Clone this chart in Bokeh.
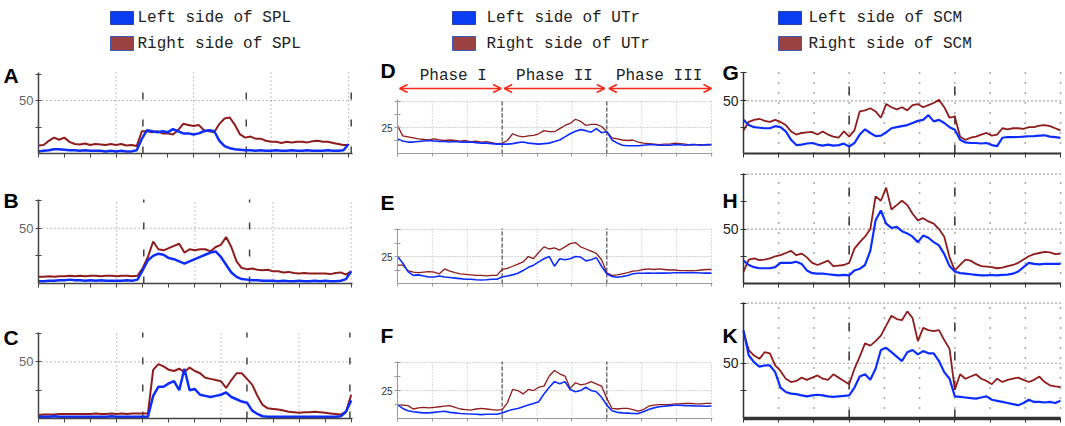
import numpy as np
from bokeh.plotting import figure
from bokeh.layouts import column, row
from bokeh.models import Range1d, FixedTicker, Label, Arrow, OpenHead
from bokeh.core.properties import value
from bokeh.embed import file_html
from bokeh.resources import INLINE

# ---------------- data (surface EMG amplitude traces) ----------------
SPL_DURATION = 12.0   # time span of SPL traces (axis units)
UTR_DURATION = 9.0
SCM_DURATION = 9.0

legend_titles = ["SPL", "UTr", "SCM"]
panel_letters = [["A", "D", "G"], ["B", "E", "H"], ["C", "F", "K"]]
phase_names = ["Phase I", "Phase II", "Phase III"]

spl_right_A = [7.5, 8, 12, 15, 13, 15, 11, 9, 8.5, 9.5, 8, 9, 8.5, 8, 9, 8, 9, 7.5, 8, 7,
               21, 21, 20, 21, 19, 19, 18, 22, 28, 27, 26, 27, 22, 21, 20, 28, 33, 34, 27, 18,
               15, 16, 14, 14, 12, 11, 11, 10, 11, 10.5, 11, 11, 10.5, 11.5, 12, 11, 11, 10, 9, 8, 8]
spl_left_A = [2, 2.5, 3, 4, 4, 3.5, 3, 3, 2.5, 3, 2.5, 2.5, 2.5, 2, 2.5, 2, 2.5, 2, 2, 3,
              14, 22, 21, 20, 21, 20, 23, 21, 19, 19, 18, 19, 21, 22, 21, 12, 7, 5, 4, 3.5,
              3, 3, 2.5, 3, 2.5, 2.5, 3, 2.5, 2.5, 3, 2.5, 2.5, 3, 2.5, 2.5, 2.5, 3, 2.5, 2.5, 3, 9]
spl_right_B = [6, 6, 6.5, 6, 6.5, 6.5, 7, 6.5, 7, 6.5, 7, 7, 6.5, 7, 7, 6.5, 7, 7, 6.5, 7,
               14, 24, 38, 31, 30, 32, 34, 36, 28, 31, 30, 31, 31, 29, 33, 35, 42, 33, 20, 14,
               13, 13.5, 12.5, 12, 12.5, 11, 11, 10, 10.5, 9.5, 9, 9.5, 9, 9, 9, 9, 8.5, 9.5, 10, 8, 11]
spl_left_B = [2, 2, 2.5, 2.5, 3, 3, 3.5, 3, 3, 2.5, 3, 2.5, 3, 2.5, 2.5, 2.5, 2.5, 3, 2.5, 3.5,
              12, 21, 25, 27, 26, 23, 22, 20, 18, 20, 22, 24, 26, 28, 29, 24, 17, 10, 6, 4,
              3.5, 3, 3, 2.5, 2.5, 2.5, 2, 2.5, 2, 2, 2.5, 2, 2, 2.5, 2, 2.5, 2, 2, 2.5, 4, 11]
spl_right_C = [3, 3.5, 3.5, 3.5, 4, 4, 4, 4, 4, 4, 4, 4.5, 4, 4, 4.5, 4, 4.5, 4, 4.5, 4.5,
               4.5, 4.5, 43, 48, 46, 43, 42, 44, 41, 45, 42, 40, 36, 35, 34, 33, 27, 34, 40, 40,
               35, 30, 20, 12, 9, 8.5, 8, 7, 6, 5.5, 5, 5.5, 5.5, 6, 5.5, 5, 4.5, 4, 3.5, 6, 21]
spl_left_C = [1.5, 1.5, 1.5, 2, 1.5, 1.5, 1.5, 1.5, 1.5, 1.5, 1.5, 1.5, 1.5, 1.5, 2, 1.5, 1.5, 1.5, 1.5, 1.5,
              1.5, 1.5, 20, 28, 28, 31, 33, 25, 44, 25, 26, 21, 20, 19, 20, 21, 23, 19, 17, 15,
              14, 7, 4, 2, 1.5, 1.5, 1.5, 1.5, 1.5, 1.5, 1.5, 1.5, 1.5, 1.5, 1.5, 1.5, 1.5, 1.5, 2, 6, 16]

utr_right_D = [27, 17, 16, 15, 14, 13.5, 13, 14, 13, 12.5, 13, 12.5, 12, 12.5, 11.5, 12, 11, 11.5, 10.5, 9.5,
               10, 12.5, 19, 17, 16, 17, 17.5, 19, 22, 21, 21, 24, 27, 29, 33, 31, 27, 28, 28, 26,
               21, 15, 14, 13, 12.5, 13, 11, 10, 9.5, 9, 8.5, 9, 9, 10, 9.5, 9, 8, 8.5, 8.5, 8, 8.5]
utr_left_D = [14, 12, 11, 11, 11.5, 12, 12.5, 12, 11.5, 11.5, 11, 11.5, 11, 11, 11, 10.5, 10, 10, 9.5, 9,
              9, 9, 9.5, 10.5, 11, 10, 9.5, 9, 9.5, 10, 11.5, 13, 16, 19, 21.5, 23, 22, 20.5, 24, 20,
              21, 13, 10, 8, 7.5, 7.5, 7.5, 8, 8.5, 8.5, 8, 8, 8, 8.5, 8.5, 8, 8.5, 8.5, 8, 8.5, 8.5]
utr_right_E = [17, 17, 12, 10.5, 10, 10.5, 11, 10.5, 9, 13.5, 11.5, 10, 9, 8.5, 8, 7.5, 7.5, 7, 7.5, 7.5,
               13, 14, 16, 18, 20, 25, 23, 29, 34, 32, 33, 31, 34, 37, 38, 34, 32, 30, 28, 22,
               10, 7.5, 8, 9, 10, 11.5, 12, 13, 13.5, 13, 13.5, 13, 12.5, 12.5, 12, 12, 12, 12, 12.5, 13, 13]
utr_left_E = [25, 19, 11, 7.5, 8, 7, 6, 6, 7, 6, 5.5, 5, 4.5, 4, 4, 3.5, 3.2, 3.5, 4, 4,
              6, 7, 8, 9.5, 12, 15, 17, 20, 23, 25, 16, 23, 22, 23, 25, 24.5, 21, 22, 24, 16,
              9, 6.5, 5.8, 6.5, 7.5, 9, 9.5, 9.5, 9.6, 9.5, 9.6, 9.6, 9.8, 10, 10, 10, 10.2, 10, 9.8, 9.6, 9.6]
utr_right_F = [12.5, 12, 11.5, 8.5, 9.5, 10, 9.5, 10, 10.5, 11, 11.5, 10, 8.5, 8, 7.5, 8.5, 9, 8.5, 8, 7.5,
               8, 14, 26, 25, 22, 26, 25, 28, 29, 38, 43, 40, 38, 27, 32, 30, 31, 33, 31, 29,
               18, 9, 8.5, 9, 9, 8, 6.5, 8, 11, 12, 12.5, 12.5, 12.5, 13, 13, 13.5, 13.5, 13, 13, 13.5, 13.5]
utr_left_F = [12.5, 9, 7, 6, 5.5, 5, 5, 5.5, 6, 6.5, 5.5, 5, 4.5, 4.2, 4, 3.8, 3.5, 3.8, 3.8, 3.8,
              5, 6.8, 8, 9, 10.5, 12, 13.5, 15, 22, 28, 33, 31, 33, 26, 24, 25, 28, 25, 24, 19,
              12, 7, 5.5, 5, 4.8, 4.5, 4.4, 6, 8, 9.5, 10.5, 11, 11.5, 11.8, 11.8, 11.5, 11.5, 11.2, 11.2, 11, 11.2]

scm_right_G = [22, 30, 32, 33, 31, 30, 32, 30, 27, 21, 18, 19.5, 20, 20.5, 18, 21, 18, 16, 15, 21,
               16, 22, 40, 41, 43, 40, 34, 47, 44, 42, 44, 41, 46, 47, 44, 46, 48, 51, 44, 34,
               35, 16, 13, 15, 16, 18, 19.5, 17, 18, 24, 23, 24, 24, 23.5, 25, 25, 26.5, 27, 26, 24, 22]
scm_left_G = [32, 27, 25, 24.5, 24, 24, 26, 25, 21, 13, 8, 8.5, 9.5, 10, 8.5, 7.5, 8.5, 7.5, 8, 9.4,
              6.5, 10, 18, 23, 19.5, 16.5, 17, 20, 24, 25, 26, 27, 29, 31, 32, 36.5, 30.5, 32, 29, 25,
              22.5, 13, 10.5, 10, 10, 9.5, 10, 8, 7, 15, 15.7, 15.5, 15.7, 16, 16.4, 16.5, 17, 17.3, 16, 15.5, 14.8]
scm_right_H = [11, 22, 23, 21.5, 22, 23, 25, 26, 28, 30, 26, 27.5, 24, 19, 17, 19, 21, 16, 16.5, 17,
               19, 32, 38, 43, 50, 80, 76, 88, 68, 72, 76, 72, 64, 58, 60, 57, 55, 50, 43, 24,
               12, 17, 22, 21, 18, 16, 15.5, 15, 14, 14.5, 16, 17, 19, 22, 25, 27, 28, 29, 28.5, 27, 27.5]
scm_left_H = [21, 17, 15, 14, 14, 14, 15, 19, 19, 19, 20, 18, 12, 9.5, 9, 9, 8.5, 8, 7.5, 8,
              7.5, 12, 13.5, 17, 30, 58, 67, 55, 51, 52, 48, 46, 43, 38, 44, 42, 38, 35, 27, 16,
              11, 9.5, 9, 8.5, 8, 7.5, 7.5, 7.8, 7.5, 8, 8.2, 9, 11, 15, 19, 18, 17.5, 18, 18, 18, 18]
scm_right_K = [78, 62, 57, 54, 60, 59, 48, 43, 36, 33, 34, 37, 35, 37, 39, 36, 35, 40, 37, 34,
               31, 45, 56, 68, 66, 70, 75, 84, 93, 90, 89, 97, 91, 70, 82, 80, 79, 80, 71, 63,
               26, 40, 36, 38, 40, 36, 34, 31, 36, 33, 35, 36, 37, 35, 33, 35, 38, 33, 30, 29, 28.5]
scm_left_K = [80, 57, 51, 47, 48, 48, 42, 28, 24, 22.5, 22, 21, 20, 21, 21.5, 21, 20, 19.5, 20, 20.5,
              21, 28, 38, 40, 35, 45, 62, 64, 60, 56, 52, 60, 62, 58, 61, 59, 59, 52, 42, 36,
              20, 19.5, 19, 18.5, 18, 19, 20, 17, 16, 15, 14, 13, 12, 14, 17, 15, 15, 14.5, 15, 14, 16]

# ---------------- style ----------------
BLUE = "#0b2dff"
RED = "#8e1c1c"
ARROW_RED = "#f52a1a"
MONO = "Liberation Mono"
SANS = "Liberation Sans"

COL_W = [380, 340, 344]
COL_FL = [38, 17, 23]      # pixel (inside figure) where data x=0 sits
COL_FR = [352, 332, 340]   # pixel where data x=x_end sits
ROW_H = [105, 130, 134]
ROW_FB = [98, 123, 128]    # pixel of the x axis inside each figure

STYLES = {
    "spl": dict(axis="#444444", axis_w=1.5, xaxis_w=1.5, lab="#666666", lab_size="13px",
                vg_dash="1 3", vg_col="#888888", vg_w=1, hg_dash="1 3", hg_col="#777777", hg_w=1,
                mk_dash="7 20", mk_col="#444444", mk_w=1.5, bw=2.5, rw=2.0, xtick=4),
    "utr": dict(axis="#9a9a9a", axis_w=1, xaxis_w=1, lab="#333333", lab_size="10px",
                vg_dash="1 2", vg_col="#b5b5b5", vg_w=1, hg_dash="1 2", hg_col="#aaaaaa", hg_w=1,
                mk_dash="4 2", mk_col="#555555", mk_w=1.2, bw=1.6, rw=1.3, xtick=3),
    "scm": dict(axis="#333333", axis_w=1.5, xaxis_w=2, lab="#222222", lab_size="14px",
                vg_dash="1 9", vg_col="#555555", vg_w=1.5, hg_dash="1 3", hg_col="#555555", hg_w=1.2,
                mk_dash="9 20", mk_col="#333333", mk_w=1.5, bw=2.2, rw=1.8, xtick=4),
}


def make_panel(r, c, style, top, x_end, y_end, duration, left_vals, right_vals,
               yticks, ylabels, hgrid, vgrid, markers, letter, letter_pos, xaxis_w=None):
    st = STYLES[style]
    W, H = COL_W[c], ROW_H[r]
    fl, fr = COL_FL[c], COL_FR[c]
    ft, fb = top, ROW_FB[r]
    sx = (fr - fl) / x_end
    sy = (fb - ft) / y_end

    def dx(px):
        return (px - fl) / sx

    def dy(py):
        return (fb - py) / sy

    p = figure(width=W, height=H, x_range=Range1d(dx(0), dx(W)), y_range=Range1d(dy(H), dy(0)),
               toolbar_location=None, output_backend="svg", title=None)
    p.min_border = 0
    p.outline_line_color = None
    p.background_fill_color = "white"
    p.border_fill_color = "white"
    p.grid.visible = False

    # y axis fixed at x = 0
    p.yaxis.fixed_location = 0
    p.yaxis.bounds = (0, y_end)
    p.yaxis.ticker = FixedTicker(ticks=yticks)
    p.yaxis.major_label_overrides = {t: (str(int(t)) if t in ylabels else "") for t in yticks}
    p.yaxis.axis_line_color = st["axis"]
    p.yaxis.axis_line_width = st["axis_w"]
    p.yaxis.major_tick_line_color = st["axis"]
    p.yaxis.major_tick_line_width = 1.2
    p.yaxis.major_tick_in = 3
    p.yaxis.major_tick_out = 3
    p.yaxis.minor_tick_line_color = None
    p.yaxis.major_label_text_color = st["lab"]
    p.yaxis.major_label_text_font = SANS
    p.yaxis.major_label_text_font_size = st["lab_size"]
    p.yaxis.major_label_standoff = 2

    # x axis fixed at y = 0
    xt = list(range(0, int(x_end) + 1))
    p.xaxis.fixed_location = 0
    p.xaxis.bounds = (0, x_end)
    p.xaxis.ticker = FixedTicker(ticks=xt)
    p.xaxis.major_label_overrides = {t: "" for t in xt}
    p.xaxis.axis_line_color = st["axis"]
    p.xaxis.axis_line_width = xaxis_w if xaxis_w else st["xaxis_w"]
    p.xaxis.major_tick_line_color = st["axis"]
    p.xaxis.major_tick_in = 0
    p.xaxis.major_tick_out = st["xtick"]
    p.xaxis.minor_tick_line_color = None

    # grid lines limited to the data area
    p.segment(x0=vgrid, y0=[0] * len(vgrid), x1=vgrid, y1=[y_end] * len(vgrid),
              line_color=st["vg_col"], line_dash=st["vg_dash"], line_width=st["vg_w"])
    p.segment(x0=[0] * len(hgrid), y0=hgrid, x1=[x_end] * len(hgrid), y1=hgrid,
              line_color=st["hg_col"], line_dash=st["hg_dash"], line_width=st["hg_w"])
    p.segment(x0=markers, y0=[0] * len(markers), x1=markers, y1=[y_end] * len(markers),
              line_color=st["mk_col"], line_dash=st["mk_dash"], line_width=st["mk_w"])

    xr = np.linspace(0, duration, len(right_vals))
    xl = np.linspace(0, duration, len(left_vals))
    p.line(xr, right_vals, line_color=RED, line_width=st["rw"])
    p.line(xl, left_vals, line_color=BLUE, line_width=st["bw"])

    lx, ly = letter_pos
    p.add_layout(Label(x=dx(lx), y=dy(ly + 15), text=letter, text_font=SANS,
                       text_font_style="bold", text_font_size="21px", text_color="black",
                       text_align="left", text_baseline="alphabetic"))
    p._dx, p._dy = dx, dy
    return p


# Row 1
pA = make_panel(0, 0, "spl", 17, 12.15, 76.5, SPL_DURATION, spl_left_A, spl_right_A,
                [25, 50, 75], [50], [50], [3, 6, 9, 12], [4.04, 8.04, 12.1], panel_letters[0][0], (3, 5))
pD = make_panel(0, 1, "utr", 44, 9.03, 52, UTR_DURATION, utr_left_D, utr_right_D,
                [12.5, 25, 37.5, 50], [25], [25, 50], list(range(1, 10)), [3, 6], panel_letters[0][1], (0, 0))
pG = make_panel(0, 2, "scm", 17, 9.0, 77, SCM_DURATION, scm_left_G, scm_right_G,
                [25, 50, 77], [50], [50], list(range(1, 10)), [3, 6], panel_letters[0][2], (2, 2))
# Row 2
pB = make_panel(1, 0, "spl", 39, 12.05, 76, SPL_DURATION, spl_left_B, spl_right_B,
                [25, 50, 75], [50], [50], [3, 6, 9, 12], [4.04, 8.1], panel_letters[1][0], (3, 25))
pE = make_panel(1, 1, "utr", 68, 9.03, 51, UTR_DURATION, utr_left_E, utr_right_E,
                [12.5, 25, 37.5, 50], [25], [25, 50], list(range(1, 10)), [3, 6], panel_letters[1][1], (0, 27))
pH = make_panel(1, 2, "scm", 13, 9.0, 101, SCM_DURATION, scm_left_H, scm_right_H,
                [25, 50, 75, 100], [50], [50, 100.5], list(range(1, 10)), [3, 6], panel_letters[1][2], (2, 25))
# Row 3
pC = make_panel(2, 0, "spl", 42, 12.05, 76, SPL_DURATION, spl_left_C, spl_right_C,
                [25, 50, 75], [50], [50], [3, 7, 10], [4.0, 8.0, 11.95], panel_letters[2][0], (3, 32))
pF = make_panel(2, 1, "utr", 71, 9.03, 51, UTR_DURATION, utr_left_F, utr_right_F,
                [12.5, 25, 37.5, 50], [25], [25, 50], list(range(1, 10)), [3, 6], panel_letters[2][1], (0, 30))
pK = make_panel(2, 2, "scm", 12, 9.0, 105, SCM_DURATION, scm_left_K, scm_right_K,
                [25, 50, 104], [50], [50, 104.5], list(range(1, 10)), [3, 6], panel_letters[2][2], (2, 30),
                xaxis_w=3.5)

# Phase arrows and labels above panel D
phase_bounds = [(0.06, 2.97), (3.06, 5.94), (6.06, 9.0)]
phase_centers = [1.6, 4.5, 7.5]
arrow_y = pD._dy(33)
text_y = pD._dy(20)
for (xs, xe), xc, name in zip(phase_bounds, phase_centers, phase_names):
    pD.add_layout(Arrow(x_start=xs, y_start=arrow_y, x_end=xe, y_end=arrow_y,
                        line_color=ARROW_RED, line_width=1.6,
                        start=OpenHead(size=8, line_color=ARROW_RED, line_width=1.6),
                        end=OpenHead(size=8, line_color=ARROW_RED, line_width=1.6)))
    pD.add_layout(Label(x=xc, y=text_y, text=name, text_align="center", text_baseline="middle",
                        text_font=MONO, text_font_size="16px", text_color="#222222"))

# Legend strip
leg = figure(width=1064, height=55, x_range=Range1d(0, 1064), y_range=Range1d(55, 0),
             toolbar_location=None, output_backend="svg", title=None)
leg.min_border = 0
leg.axis.visible = False
leg.grid.visible = False
leg.outline_line_color = None
box_left = [110, 452, 778]
text_left = [137, 486, 808]
box_w = 23
for bx, tx, mus in zip(box_left, text_left, legend_titles):
    leg.quad(left=[bx], right=[bx + box_w], top=[11], bottom=[24], fill_color="#0a3cf2",
             line_color="#2a44a8", line_width=1)
    leg.quad(left=[bx], right=[bx + box_w], top=[36], bottom=[50], fill_color="#9a4242",
             line_color="#3a5ab8", line_width=1)
    leg.text(x=[tx, tx], y=[17.5, 43],
             text=["Left side of " + mus, "Right side of " + mus],
             text_font=value(MONO), text_font_size="16px", text_color="#222222",
             text_baseline="middle", text_align="left")

layout = column(leg, row(pA, pD, pG), row(pB, pE, pH), row(pC, pF, pK))

with open("out.html", "w") as f:
    f.write(file_html(layout, INLINE))
